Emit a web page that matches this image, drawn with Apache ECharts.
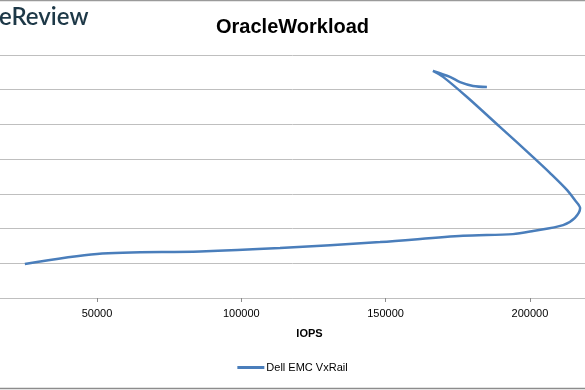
<!DOCTYPE html>
<html><head><meta charset="utf-8">
<script src="https://cdn.jsdelivr.net/npm/echarts@6/dist/echarts.min.js"></script>
<style>html,body{margin:0;padding:0;background:#fff}#c{width:585px;height:390px}</style>
</head><body><div id="c"></div>
<script>
var titleText = "OracleWorkload";
var watermarkText = "eReview";
var xAxisName = "IOPS";
var seriesName = "Dell EMC VxRail";
var xTicks = [50000, 100000, 150000, 200000];
var xRange = [16390, 219090];
var yTicks = [0, 1, 2, 3, 4, 5, 6, 7];
var iops = [25000, 50000, 85700, 113400, 148100, 176800, 194100, 201100, 211500, 215600, 217400, 215600, 212900, 207000, 201100, 189600, 178200, 169900, 166400, 172300, 175800, 180300, 185100];
var latency = [0.98, 1.27, 1.34, 1.44, 1.61, 1.79, 1.84, 1.93, 2.10, 2.31, 2.59, 2.82, 3.11, 3.60, 4.06, 4.93, 5.79, 6.37, 6.54, 6.37, 6.22, 6.11, 6.08];

var data = iops.map(function(v, i){ return [v, latency[i]]; });
var chart = echarts.init(document.getElementById('c'), null, {renderer: 'canvas'});
var font = '"Liberation Sans", Arial, sans-serif';
chart.setOption({
  animation: false,
  backgroundColor: '#fff',
  title: {text: titleText, left: 'center', top: 12, textStyle: {fontFamily: font, fontSize: 20, fontWeight: 'bold', color: '#000'}},
  graphic: [
    {type: 'text', left: -1, top: 5, style: {text: watermarkText, font: '600 24px "Lato", "Open Sans", sans-serif', fill: '#1d3847'}},
    {type: 'line', shape: {x1: 0, y1: 0.5, x2: 585, y2: 0.5}, style: {stroke: '#9a9a9a', lineWidth: 1.5}},
    {type: 'line', shape: {x1: 0, y1: 388.5, x2: 585, y2: 388.5}, style: {stroke: '#8c8c8c', lineWidth: 1.5}}
  ],
  legend: {bottom: 12, left: 'center', itemWidth: 27, itemHeight: 3, itemGap: 4,
    textStyle: {fontFamily: font, fontSize: 11, color: '#000', padding: [0,0,0,-3]},
    data: [{name: seriesName, icon: 'rect'}]},
  grid: {left: 0, right: 0, top: 55, bottom: 92, containLabel: false},
  xAxis: {type: 'value', min: xRange[0], max: xRange[1],
    name: xAxisName, nameLocation: 'middle', nameGap: 30,
    nameTextStyle: {fontFamily: font, fontSize: 11, fontWeight: 'bold', color: '#000', padding: [0, 0, 0, 34]},
    axisLine: {lineStyle: {color: '#bfbfbf', width: 1}},
    axisTick: {show: true, length: 4, customValues: xTicks, lineStyle: {color: '#8c8c8c'}},
    axisLabel: {fontFamily: font, fontSize: 11, color: '#000', margin: 10, customValues: xTicks,
      formatter: function(v){ return String(v); }},
    splitLine: {show: false}},
  yAxis: {type: 'value', min: yTicks[0], max: yTicks[yTicks.length-1], interval: 1,
    axisLine: {show: false}, axisTick: {show: false}, axisLabel: {show: false},
    splitLine: {lineStyle: {color: '#bfbfbf', width: 1}}},
  series: [{name: seriesName, type: 'line', data: data, smooth: 0.3, showSymbol: false,
    lineStyle: {color: '#4a7ebb', width: 2.5}, itemStyle: {color: '#4a7ebb'}}]
});
</script></body></html>
